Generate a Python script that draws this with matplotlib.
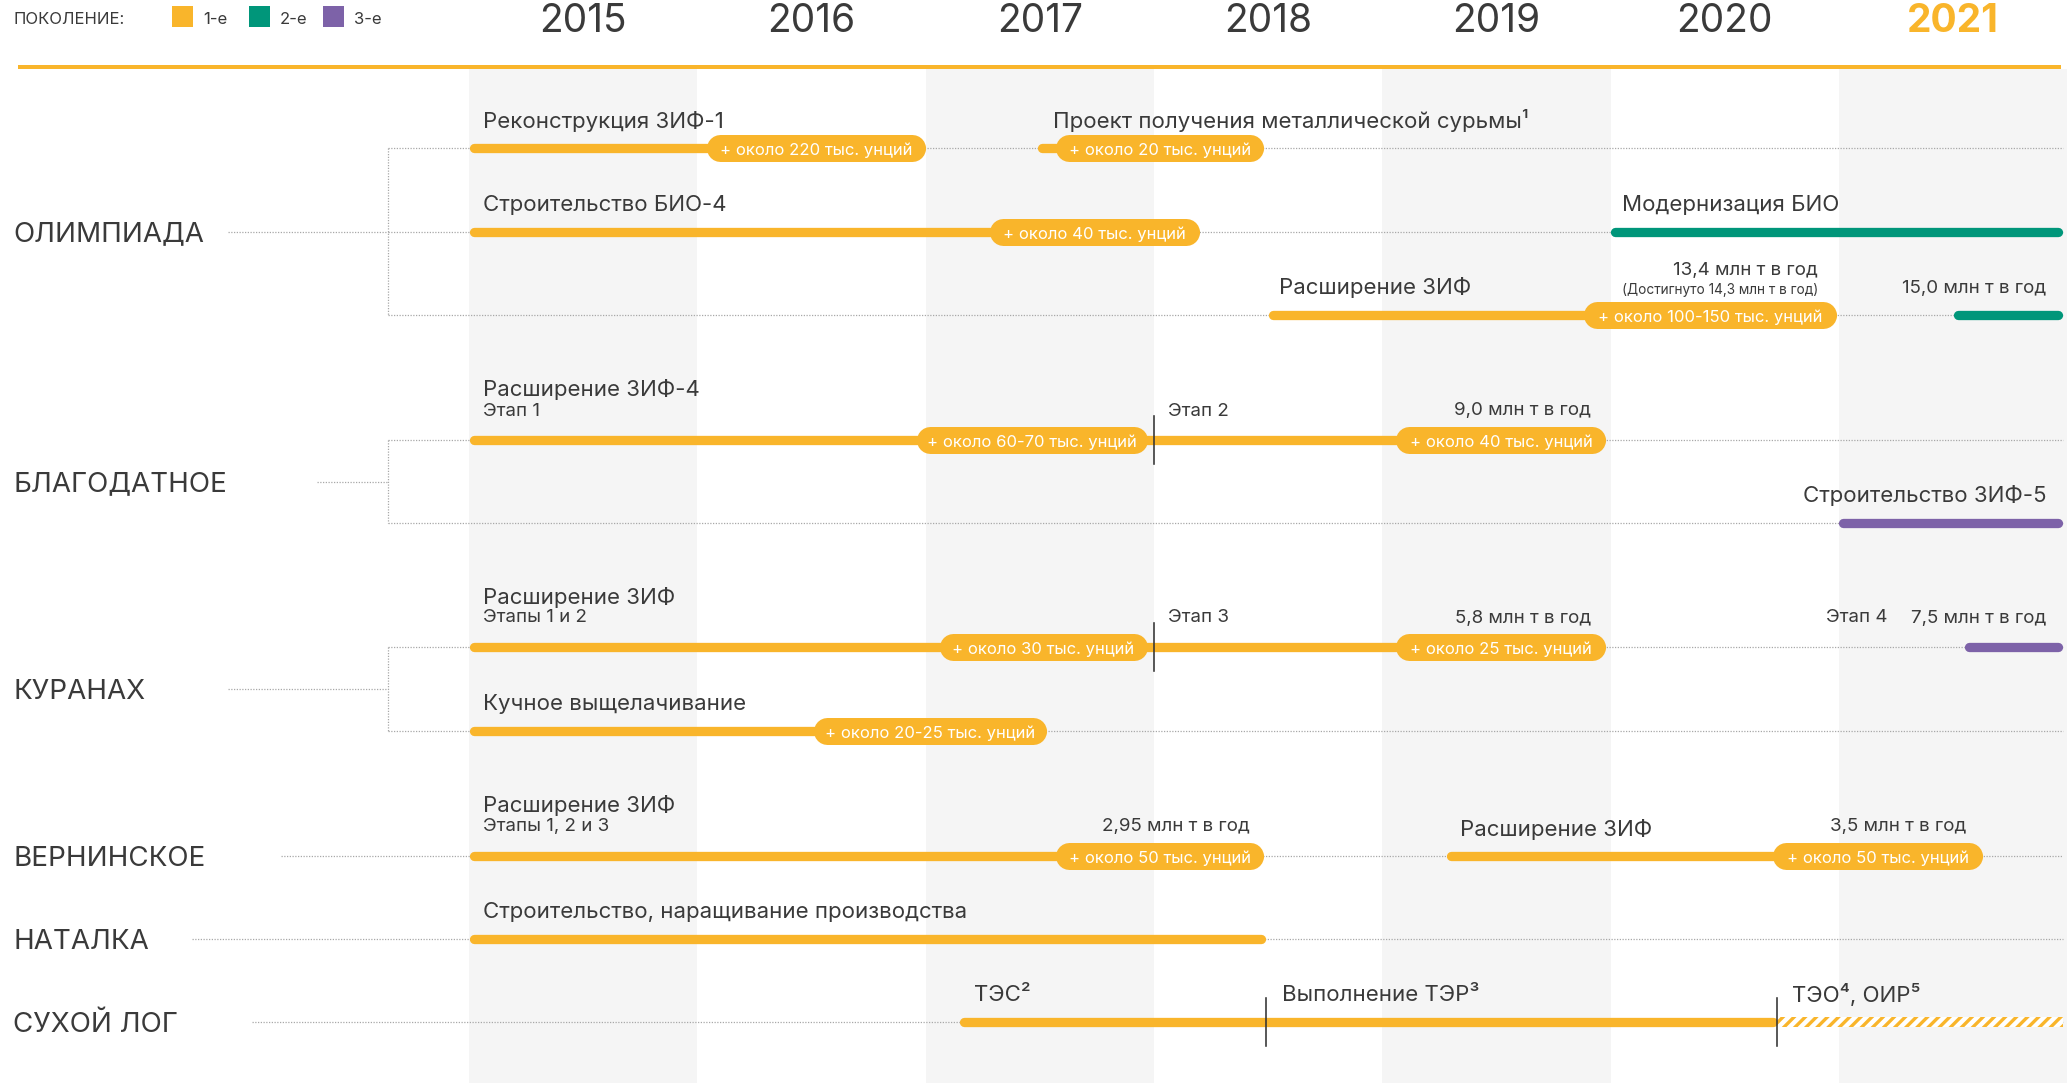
import numpy as np
import matplotlib.pyplot as plt
from matplotlib.patches import Rectangle

plt.rcParams['font.family'] = ['Inter', 'DejaVu Sans']
plt.rcParams['hatch.linewidth'] = 2.4

### Colours
ORANGE = '#F9B52B'
GEN_COLORS = {1: ORANGE, 2: '#00967A', 3: '#7D62A8'}
TEXT = '#3a3a3a'
BAND = '#f5f5f5'
DOT = '#a8a8a8'

### Data
years = [2015, 2016, 2017, 2018, 2019, 2020, 2021]
legend_labels = ['1-е', '2-е', '3-е']

groups = ['ОЛИМПИАДА', 'БЛАГОДАТНОЕ', 'КУРАНАХ', 'ВЕРНИНСКОЕ', 'НАТАЛКА', 'СУХОЙ ЛОГ']
group_rows = [[0, 1, 2], [3, 4], [5, 6], [7], [8], [9]]

# bars: row, start, end, generation
bar_row = [0, 0, 1, 1, 2, 2, 3, 4, 5, 5, 6, 7, 7, 8, 9]
bar_start = [2015.0, 2017.49, 2015.0, 2020.0, 2018.5, 2021.5, 2015.0, 2021.0,
             2015.0, 2021.55, 2015.0, 2015.0, 2019.28, 2015.0, 2017.15]
bar_end = [2017.0, 2018.48, 2018.2, 2021.98, 2020.99, 2021.98, 2019.98, 2021.98,
           2019.98, 2021.98, 2017.53, 2018.48, 2021.63, 2018.49, 2020.73]
bar_gen = [1, 1, 1, 2, 1, 2, 1, 3, 1, 3, 1, 1, 1, 1, 1]

# hatched (planned) part
hatch_row = [9]
hatch_start = [2020.73]
hatch_end = [2021.98]

# production-increase pills
pill_row = [0, 0, 1, 2, 3, 3, 5, 5, 6, 7, 7]
pill_start = [2016.04, 2017.57, 2017.28, 2019.88, 2016.96, 2019.06, 2017.06, 2019.06,
              2016.51, 2017.57, 2020.71]
pill_end = [2017.0, 2018.48, 2018.2, 2020.99, 2017.97, 2019.98, 2017.97, 2019.98,
            2017.53, 2018.48, 2021.63]
pill_text = ['+ около 220 тыс. унций', '+ около 20 тыс. унций', '+ около 40 тыс. унций',
             '+ около 100-150 тыс. унций', '+ около 60-70 тыс. унций', '+ около 40 тыс. унций',
             '+ около 30 тыс. унций', '+ около 25 тыс. унций', '+ около 20-25 тыс. унций',
             '+ около 50 тыс. унций', '+ около 50 тыс. унций']

# stage separators
tick_row = [3, 5, 9, 9]
tick_x = [2018.0, 2018.0, 2018.49, 2020.73]

# project titles: x, row, text, align
title_x = [2015.06, 2017.56, 2015.06, 2020.05, 2018.55, 2021.91, 2015.06,
           2019.34, 2015.06, 2017.21, 2018.56, 2020.795]
title_row = [0, 0, 1, 1, 2, 4, 6, 7, 8, 9, 9, 9]
title_text = ['Реконструкция ЗИФ-1', 'Проект получения металлической сурьмы¹',
              'Строительство БИО-4', 'Модернизация БИО', 'Расширение ЗИФ',
              'Строительство ЗИФ-5', 'Кучное выщелачивание', 'Расширение ЗИФ',
              'Строительство, наращивание производства', 'ТЭС²', 'Выполнение ТЭР³', 'ТЭО⁴, ОИР⁵']
title_ha = ['left', 'left', 'left', 'left', 'left', 'right', 'left',
            'left', 'left', 'left', 'left', 'left']

# two-line titles: row, title, subtitle
two_row = [3, 5, 7]
two_title = ['Расширение ЗИФ-4', 'Расширение ЗИФ', 'Расширение ЗИФ']
two_sub = ['Этап 1', 'Этапы 1 и 2', 'Этапы 1, 2 и 3']

# small notes: x, row, text, align
note_x = [2018.06, 2019.915, 2018.06, 2019.915, 2020.945, 2021.91, 2018.42, 2021.56,
          2020.91, 2021.91]
note_row = [3, 3, 5, 5, 5, 5, 7, 7, 2, 2]
note_text = ['Этап 2', '9,0 млн т в год', 'Этап 3', '5,8 млн т в год', 'Этап 4',
             '7,5 млн т в год', '2,95 млн т в год', '3,5 млн т в год',
             '13,4 млн т в год', '15,0 млн т в год']
note_ha = ['left', 'right', 'left', 'right', 'left', 'right', 'right', 'right', 'right', 'right']

### Layout (pixels, figure is 2069 x 1083)
W, H = 2069, 1083
row_y = [148, 232, 315, 440, 523, 647, 731, 856, 939, 1022]
YR = 228.3                      # px per year
X0 = 469                        # px of 2015.0
def yr(px):
    return 2015 + (px - X0) / YR
PT = 72 / 100                   # px -> points
TY = 3                          # text baseline nudge (px)

fig = plt.figure(figsize=(W / 100, H / 100), dpi=100)
ax = fig.add_axes([0, 0, 1, 1])
ax.set_xlim(yr(0), yr(W))
ax.set_ylim(H, 0)
ax.axis('off')

# year columns
for i, y in enumerate(years):
    if i % 2 == 0:
        ax.fill_between([y, y + 1], 69, H, color=BAND, lw=0, zorder=0)
    ax.text(y + 0.5, 18 + 4, str(y), ha='center', va='center', fontsize=28,
            color=ORANGE if y == years[-1] else TEXT,
            fontweight='bold' if y == years[-1] else 'normal')
ax.plot([yr(18), yr(2061)], [67, 67], color=ORANGE, lw=4 * PT, solid_capstyle='butt', zorder=2)

# legend
ax.text(yr(13), 17 + 2, 'ПОКОЛЕНИЕ:', ha='left', va='center', fontsize=12, color=TEXT)
for k, (lab, cx) in enumerate(zip(legend_labels, [182, 259, 333])):
    ax.add_patch(Rectangle((yr(cx - 10.5), 6), 21 / YR, 21, color=GEN_COLORS[k + 1], lw=0))
    ax.text(yr(cx + 21), 17 + 2, lab, ha='left', va='center', fontsize=12, color=TEXT)

# group labels, brackets, dotted guides
label_dot_start = [228, 317, 228, 281, 192, 252]
BR = 388
for g, rows, ds in zip(groups, group_rows, label_dot_start):
    ys = [row_y[r] for r in rows]
    gy = (ys[0] + ys[-1]) / 2
    ax.text(yr(13), gy + TY, g, ha='left', va='center', fontsize=20, color=TEXT)
    dstyle = dict(color=DOT, lw=0.9, ls=(0, (1, 1.2)), zorder=1)
    if len(rows) > 1:
        ax.plot([yr(ds), yr(BR)], [gy, gy], **dstyle)
        ax.plot([yr(BR), yr(BR)], [ys[0], ys[-1]], **dstyle)
        for y in ys:
            ax.plot([yr(BR), yr(2063)], [y, y], **dstyle)
    else:
        ax.plot([yr(ds), yr(2063)], [gy, gy], **dstyle)

# bars
BAR = 9.3
hb = BAR / 2 / YR
for r, s, e, gcol in zip(bar_row, bar_start, bar_end, bar_gen):
    ax.plot([s + hb, e - hb], [row_y[r]] * 2, color=GEN_COLORS[gcol], lw=BAR * PT,
            solid_capstyle='round', zorder=3)

for r, s, e in zip(hatch_row, hatch_start, hatch_end):
    ax.add_patch(Rectangle((s, row_y[r] - BAR / 2), e - s, BAR, facecolor='white',
                           edgecolor=ORANGE, hatch='///', lw=0, zorder=3))

# pills
PILL = 27
hp = PILL / 2 / YR
for r, s, e, t in zip(pill_row, pill_start, pill_end, pill_text):
    ax.plot([s + hp, e - hp], [row_y[r]] * 2, color=ORANGE, lw=PILL * PT,
            solid_capstyle='round', zorder=4)
    ax.text((s + e) / 2, row_y[r] + 2, t, ha='center', va='center', fontsize=12,
            color='white', zorder=5)

# stage ticks
for r, x in zip(tick_row, tick_x):
    ax.plot([x, x], [row_y[r] - 24, row_y[r] + 24], color='#333333', lw=1.6 * PT, zorder=6)

# titles
for x, r, t, ha in zip(title_x, title_row, title_text, title_ha):
    ax.text(x, row_y[r] - 30 + TY, t, ha=ha, va='center', fontsize=16, color=TEXT)

for r, t, s in zip(two_row, two_title, two_sub):
    ax.text(2015.06, row_y[r] - 53 + TY, t, ha='left', va='center', fontsize=16, color=TEXT)
    ax.text(2015.06, row_y[r] - 32 + TY, s, ha='left', va='center', fontsize=13.5, color=TEXT)

for x, r, t, ha in zip(note_x, note_row, note_text, note_ha):
    dy = -48 if t.startswith('13,4') else -30 if t.startswith('15,0') else -32
    ax.text(x, row_y[r] + dy + TY, t, ha=ha, va='center', fontsize=13.5, color=TEXT)
ax.text(2020.91, row_y[2] - 28 + TY, '(Достигнуто 14,3 млн т в год)', ha='right', va='center',
        fontsize=9.8, color=TEXT)

fig.savefig('out.png', dpi=100)
